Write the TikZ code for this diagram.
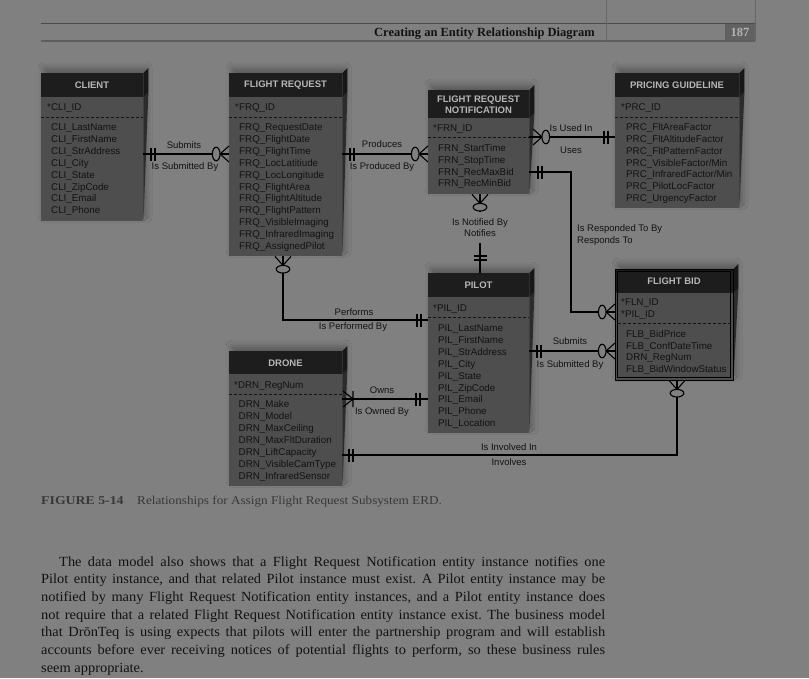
\documentclass[tikz,border=0pt]{standalone}
\usepackage{fontspec}
\setmainfont{Liberation Serif}
\newfontfamily\erfont{Liberation Sans}
\newfontfamily\bookfont[FakeStretch=1.03]{Liberation Serif}
\usetikzlibrary{calc,shadows.blur}

\definecolor{pagegray}{HTML}{808080}
\definecolor{capgray}{HTML}{1D1D1D}
\definecolor{bodygray}{HTML}{4E4E4E}
\definecolor{sidegray}{HTML}{2C2C2C}
\definecolor{inkgray}{HTML}{121212}
\definecolor{titlegray}{HTML}{B6B6B6}
\definecolor{rulegray}{HTML}{5E5E5E}

\tikzset{
  erbody/.style={fill=bodygray, inner sep=0pt, anchor=north west,
    blur shadow={shadow xshift=3pt, shadow yshift=5pt, shadow blur radius=6pt, shadow opacity=30}},
  ercap/.style={fill=capgray},
  erside/.style={fill=sidegray},
  ertitle/.style={font=\erfont\bfseries\fontsize{9.5}{11}\selectfont, text=titlegray, align=center, inner sep=0pt},
  erattr/.style={font=\erfont\fontsize{9.8}{11.9}\selectfont, text=inkgray, anchor=west, inner sep=0pt, text height=7pt, text depth=0pt},
  erdash/.style={draw=inkgray, dash pattern=on 3pt off 2pt, line width=0.8pt},
  rel/.style={draw=black, line width=1.1pt},
  rellabel/.style={font=\erfont\fontsize{9.5}{11}\selectfont, text=inkgray, inner sep=0pt, text height=7pt, text depth=0pt},
  headrule/.style={draw=black!70, line width=0.9pt},
  bookline/.style={font=\bookfont\fontsize{14}{17.7}\selectfont\frenchspacing, text=inkgray, inner sep=0pt, anchor=base west},
  onebar/.pic={\draw[line width=1.1pt] (0,-6.5) -- (0,6.5) (4,-6.5) -- (4,6.5);},
  zmany/.pic={\draw[line width=1.1pt] (0,-8) -- (9,0) -- (0,8) (0,0) -- (9,0);
    \draw[line width=1.1pt, fill=pagegray] (12.8,0) ellipse [x radius=3.8, y radius=6.8];},
  omany/.pic={\draw[line width=1.1pt] (0,-8) -- (10,0) -- (0,8) (10,-8) -- (10,8);},
}

% name, x, y, width, height, header height
\newcommand{\erbox}[6]{%
  \node[erbody, minimum width=#4pt, minimum height=#5pt] (#1) at (#2,#3) {};
  \fill[ercap] (#1.north west) rectangle ($(#1.north east)+(0,#6)$);
  \fill[erside] ($(#1.north east)+(0,#6)$) -- ++(5,-5) -- (#1.south east) ++(5,-5) -- (#1.south east) -- cycle;
  \fill[capgray!80!black] (#1.north east) -- ++(5,-5) -- ++(0,#6) -- ++(-5,5) -- cycle;
}

\begin{document}
\begin{tikzpicture}[x=1pt, y=-1pt]
\useasboundingbox (0,0) rectangle (809,678);
\fill[pagegray] (0,0) rectangle (809,678);

% running head
\draw[headrule] (41,23) -- (755,23);
\draw[headrule, draw=rulegray, line width=1.6pt] (41,41) -- (755,41);
\draw[headrule, draw=black!60] (606,0) -- (606,41) (755,0) -- (755,41);
\node[font=\bfseries\fontsize{12.5}{14}\selectfont, text=inkgray, anchor=base east, inner sep=0pt] (runhead) at (595,36) {Creating an Entity Relationship Diagram};
\node[fill=black!62, text=black!30, font=\bfseries\fontsize{12.5}{14}\selectfont, minimum width=30pt, minimum height=16pt, inner sep=0pt] (pagenum) at (740,32) {187};

% entities
\erbox{client}{41}{73}{102}{148}{24}
\erbox{frq}{229}{73}{113}{183}{24}
\erbox{frn}{428}{90}{101}{104}{28}
\erbox{prc}{615}{73}{124}{135}{24}
\erbox{pil}{428}{273}{101}{160}{24}
\erbox{drn}{229}{351}{113}{135}{23}
\erbox{flb}{615}{269}{118}{111}{24}
\draw[black, line width=0.9pt] (flb.north west) rectangle (flb.south east);
\draw[black, line width=0.9pt] ($(flb.north west)+(2.5,2.5)$) rectangle ($(flb.south east)+(-2.5,-2.5)$);

\node[ertitle] (clientT) at (92,85) {CLIENT};
\node[ertitle] (frqT) at (285.5,85) {FLIGHT REQUEST};
\node[ertitle] (frnT) at (478.5,104.5) {FLIGHT REQUEST\\NOTIFICATION};
\node[ertitle] (prcT) at (677,85) {PRICING GUIDELINE};
\node[ertitle] (pilT) at (478.5,285) {PILOT};
\node[ertitle] (drnT) at (285.5,363) {DRONE};
\node[ertitle] (flbT) at (674,281) {FLIGHT BID};

\draw[erdash] (41,117) -- (143,117);
\draw[erdash] (229,117) -- (342,117);
\draw[erdash] (428,137) -- (529,137);
\draw[erdash] (615,117) -- (739,117);
\draw[erdash] (428,317) -- (529,317);
\draw[erdash] (229,394) -- (342,394);
\draw[erdash] (618,323) -- (730,323);

\node[erattr] (cliK) at (47,107) {*CLI\_ID};
\foreach \t [count=\i from 0] in {CLI\_LastName,CLI\_FirstName,CLI\_StrAddress,CLI\_City,CLI\_State,CLI\_ZipCode,CLI\_Email,CLI\_Phone}
  \node[erattr] (cli\i) at (51,127+11.9*\i) {\t};

\node[erattr] (frqK) at (235,107) {*FRQ\_ID};
\foreach \t [count=\i from 0] in {FRQ\_RequestDate,FRQ\_FlightDate,FRQ\_FlightTime,FRQ\_LocLatitiude,FRQ\_LocLongitude,FRQ\_FlightArea,FRQ\_FlightAltitude,FRQ\_FlightPattern,FRQ\_VisibleImaging,FRQ\_InfraredImaging,FRQ\_AssignedPilot}
  \node[erattr] (frq\i) at (239,127+11.9*\i) {\t};

\node[erattr] (frnK) at (433,128) {*FRN\_ID};
\foreach \t [count=\i from 0] in {FRN\_StartTime,FRN\_StopTime,FRN\_RecMaxBid,FRN\_RecMinBid}
  \node[erattr] (frn\i) at (438,148+11.8*\i) {\t};

\node[erattr] (prcK) at (621,107) {*PRC\_ID};
\foreach \t [count=\i from 0] in {PRC\_FltAreaFactor,PRC\_FltAltitudeFactor,PRC\_FltPatternFactor,PRC\_VisibleFactor/Min,PRC\_InfraredFactor/Min,PRC\_PilotLocFactor,PRC\_UrgencyFactor}
  \node[erattr] (prc\i) at (626,127+11.85*\i) {\t};

\node[erattr] (pilK) at (433,308) {*PIL\_ID};
\foreach \t [count=\i from 0] in {PIL\_LastName,PIL\_FirstName,PIL\_StrAddress,PIL\_City,PIL\_State,PIL\_ZipCode,PIL\_Email,PIL\_Phone,PIL\_Location}
  \node[erattr] (pil\i) at (438,328+11.9*\i) {\t};

\node[erattr] (drnK) at (234,385) {*DRN\_RegNum};
\foreach \t [count=\i from 0] in {DRN\_Make,DRN\_Model,DRN\_MaxCeiling,DRN\_MaxFltDuration,DRN\_LiftCapacity,DRN\_VisibleCamType,DRN\_InfraredSensor}
  \node[erattr] (drn\i) at (238.5,404+12*\i) {\t};

\node[erattr] (flbK1) at (621,302) {*FLN\_ID};
\node[erattr] (flbK2) at (621,314) {*PIL\_ID};
\foreach \t [count=\i from 0] in {FLB\_BidPrice,FLB\_ConfDateTime,DRN\_RegNum,FLB\_BidWindowStatus}
  \node[erattr] (flb\i) at (626,334+11.7*\i) {\t};

% relationships
\draw[rel] (client.east |- 0,154) -- (frq.west |- 0,154);
\pic at (151,154) {onebar};
\pic[rotate=180] at (frq.west |- 0,154) {zmany};
\node[rellabel] (subA) at (184,145) {Submits};
\node[rellabel] (subB) at (185,166) {Is Submitted By};

\draw[rel] (frq.east |- 0,154) -- (frn.west |- 0,154);
\pic at (350,154) {onebar};
\pic[rotate=180] at (frn.west |- 0,154) {zmany};
\node[rellabel] (proA) at (382,144) {Produces};
\node[rellabel] (proB) at (382,166) {Is Produced By};

\draw[rel] (frn.east |- 0,137) -- (prc.west |- 0,137);
\pic at (533,137) {zmany};
\pic at (604,137) {onebar};
\node[rellabel] (useA) at (571,128) {Is Used In};
\node[rellabel] (useB) at (571,150) {Uses};

\draw[rel] (frn.east |- 0,172) -| (571,312) -- (flb.west |- 0,312);
\pic at (538,172) {onebar};
\pic[rotate=180] at (flb.west |- 0,312) {zmany};
\node[rellabel, anchor=west] (resA) at (577,228) {Is Responded To By};
\node[rellabel, anchor=west] (resB) at (577,240) {Responds To};

\node[rellabel, align=center, minimum height=30pt, text height=, text depth=] (notlbl) at (480,227.5) {Is Notified By\\Notifies};
\draw[rel] (frn.south -| 480,0) -- (notlbl) -- (pil.north -| 480,0);
\pic[rotate=-90] at (frn.south -| 480,0) {zmany};
\pic[rotate=-90] at (480,256) {onebar};

\draw[rel] (frq.south -| 283,0) |- (pil.west |- 0,320);
\pic[rotate=-90] at (frq.south -| 283,0) {zmany};
\pic at (417,320) {onebar};
\node[rellabel] (perA) at (354,312) {Performs};
\node[rellabel] (perB) at (353,326) {Is Performed By};

\draw[rel] (drn.east |- 0,399) -- (pil.west |- 0,399);
\pic at (343,399) {omany};
\pic at (416,399) {onebar};
\node[rellabel] (ownA) at (382,390) {Owns};
\node[rellabel] (ownB) at (382,411) {Is Owned By};

\draw[rel] (drn.east |- 0,455) -| (flb.south -| 677,0);
\pic at (349,455) {onebar};
\pic[rotate=-90] at (flb.south -| 677,0) {zmany};
\node[rellabel] (invA) at (509,447) {Is Involved In};
\node[rellabel] (invB) at (509,462) {Involves};

\draw[rel] (pil.east |- 0,351) -- (flb.west |- 0,351);
\pic at (537,351) {onebar};
\pic[rotate=180] at (flb.west |- 0,351) {zmany};
\node[rellabel] (bidA) at (570,341) {Submits};
\node[rellabel] (bidB) at (570,364) {Is Submitted By};

% caption
\node[font=\bfseries\fontsize{12}{14}\selectfont, text=black!78, anchor=base west, inner sep=0pt] (figno) at (41,504) {\scalebox{1.15}[1]{FIGURE 5-14}};
\node[font=\fontsize{12}{14}\selectfont, text=black!78, anchor=base west, inner sep=0pt] (figcap) at (137,504) {\scalebox{1.1}[1]{Relationships for Assign Flight Request Subsystem ERD.}};

% running text
\node[bookline] (line1) at (59,566) {\makebox[546pt][s]{The data model also shows that a Flight Request Notification entity instance notifies one}};
\node[bookline] (line2) at (41,583.7) {\makebox[564pt][s]{Pilot entity instance, and that related Pilot instance must exist. A Pilot entity instance may be}};
\node[bookline] (line3) at (41,601.4) {\makebox[564pt][s]{notified by many Flight Request Notification entity instances, and a Pilot entity instance does}};
\node[bookline] (line4) at (41,619.1) {\makebox[564pt][s]{not require that a related Flight Request Notification entity instance exist. The business model}};
\node[bookline] (line5) at (41,636.8) {\makebox[564pt][s]{that DrōnTeq is using expects that pilots will enter the partnership program and will establish}};
\node[bookline] (line6) at (41,654.5) {\makebox[564pt][s]{accounts before ever receiving notices of potential flights to perform, so these business rules}};
\node[bookline] (line7) at (41,672.2) {seem appropriate.};
\end{tikzpicture}
\end{document}
